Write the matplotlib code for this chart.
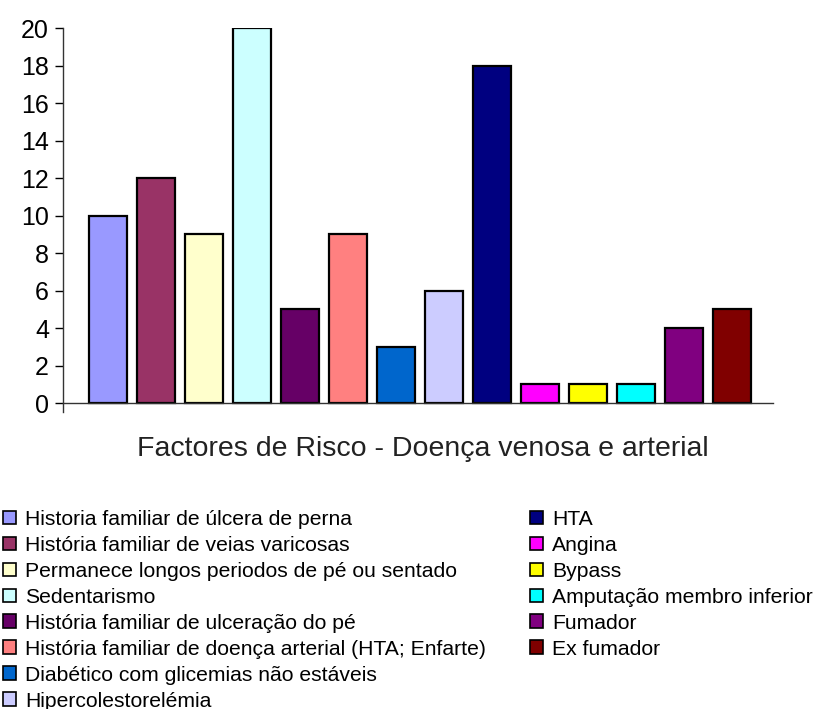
import matplotlib
matplotlib.use('Agg')
import matplotlib.pyplot as plt
from matplotlib.patches import Patch

plt.rcParams['font.family'] = ['Liberation Sans', 'DejaVu Sans']

# Risk factors and counts
labels = [
    'Historia familiar de úlcera de perna',
    'História familiar de veias varicosas',
    'Permanece longos periodos de pé ou sentado',
    'Sedentarismo',
    'História familiar de ulceração do pé',
    'História familiar de doença arterial (HTA; Enfarte)',
    'Diabético com glicemias não estáveis',
    'Hipercolestorelémia',
    'HTA',
    'Angina',
    'Bypass',
    'Amputação membro inferior',
    'Fumador',
    'Ex fumador',
]
values = [10, 12, 9, 20, 5, 9, 3, 6, 18, 1, 1, 1, 4, 5]
colors = ['#9999FF', '#993366', '#FFFFCC', '#CCFFFF', '#660066', '#FF8080',
          '#0066CC', '#CCCCFF', '#000080', '#FF00FF', '#FFFF00', '#00FFFF',
          '#800080', '#800000']
yticks = list(range(0, 21, 2))

fig = plt.figure(figsize=(8.18, 7.09), dpi=100)
ax = fig.add_axes([0.077, 0.4183, 0.868, 0.5422])

x = list(range(len(values)))
ax.bar(x, values, width=0.79, color=colors, edgecolor='black', linewidth=1.6)

ax.set_xlim(-0.94, 13.85)
ax.set_ylim(-0.5, 20)
ax.set_yticks(yticks)
ax.tick_params(axis='y', labelsize=18, length=6, width=1, direction='out', pad=4)
ax.set_xticks([])
ax.spines['top'].set_visible(False)
ax.spines['right'].set_visible(False)
ax.spines['bottom'].set_position(('data', 0))
for s in ['left', 'bottom']:
    ax.spines[s].set_linewidth(1.0)
    ax.spines[s].set_color('#333333')

fig.text(0.517, 0.367, 'Factores de Risco - Doença venosa e arterial',
         ha='center', va='center', fontsize=20.5, color='#222222')

handles = [Patch(facecolor=c, edgecolor='black', linewidth=1.2) for c in colors]
leg_kw = dict(loc='upper left', frameon=False, fontsize=15.2, borderpad=0,
              borderaxespad=0, handlelength=0.6, handleheight=0.6,
              handletextpad=0.45, labelspacing=0.33)
leg1 = fig.legend(handles[:8], labels[:8], bbox_to_anchor=(0.004, 0.281), **leg_kw)
leg2 = fig.legend(handles[8:], labels[8:], bbox_to_anchor=(0.648, 0.281), **leg_kw)

fig.savefig('out.png', dpi=100, facecolor='white')
